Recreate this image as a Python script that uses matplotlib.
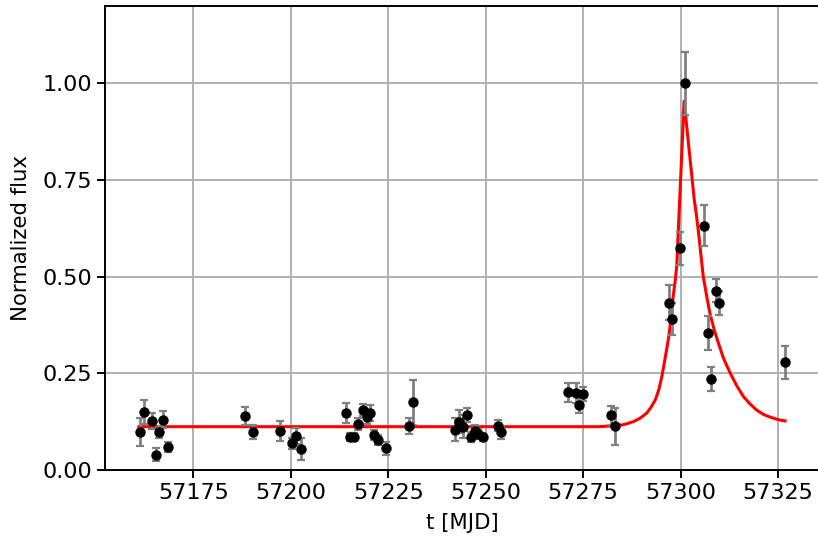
import matplotlib.pyplot as plt
import numpy as np

# Observations: time [MJD], normalized flux and its error
t_obs = [57161.3, 57162.4, 57164.3, 57165.4, 57166.3, 57167.3, 57168.5,
         57188.3, 57190.3, 57197.2, 57200.4, 57201.3, 57202.6,
         57214.2, 57215.2, 57216.2, 57217.3, 57218.4, 57219.5, 57220.3,
         57221.4, 57222.3, 57224.4, 57230.3, 57231.4,
         57242.1, 57243.2, 57244.2, 57245.1, 57246.2, 57247.2, 57248.1,
         57249.2, 57253.1, 57253.9,
         57271.2, 57273.2, 57275.0, 57274.0, 57282.1, 57283.2,
         57297.0, 57297.9, 57299.9, 57301.1, 57306.0, 57307.0, 57307.9,
         57309.0, 57309.9, 57326.8]
flux = [0.098, 0.151, 0.127, 0.040, 0.099, 0.130, 0.060,
        0.140, 0.098, 0.101, 0.069, 0.088, 0.054,
        0.147, 0.086, 0.086, 0.119, 0.155, 0.138, 0.147,
        0.091, 0.078, 0.056, 0.114, 0.175,
        0.104, 0.125, 0.112, 0.142, 0.086, 0.102, 0.093,
        0.086, 0.115, 0.098,
        0.201, 0.199, 0.197, 0.168, 0.141, 0.113,
        0.433, 0.390, 0.573, 1.000, 0.632, 0.354, 0.235,
        0.464, 0.431, 0.278]
flux_err = [0.036, 0.031, 0.021, 0.018, 0.015, 0.022, 0.013,
            0.024, 0.018, 0.027, 0.015, 0.020, 0.029,
            0.026, 0.010, 0.010, 0.015, 0.015, 0.020, 0.020,
            0.013, 0.013, 0.017, 0.020, 0.058,
            0.030, 0.030, 0.030, 0.018, 0.013, 0.015, 0.013,
            0.010, 0.015, 0.017,
            0.025, 0.025, 0.018, 0.020, 0.025, 0.048,
            0.046, 0.041, 0.043, 0.082, 0.052, 0.043, 0.031,
            0.029, 0.031, 0.042]

# Fitted light-curve model
t_model = [57161.0, 57279.3, 57283.2, 57285.3, 57287.9, 57289.6, 57291.3,
           57292.4, 57293.5, 57294.4, 57295.2, 57295.8, 57296.4, 57296.9,
           57297.3, 57297.7, 57298.1, 57298.6, 57299.0, 57300.9,
           57303.5, 57304.1, 57304.6, 57305.2, 57305.8, 57306.7, 57307.5,
           57308.6, 57309.7, 57311.0, 57312.7, 57314.4, 57316.1, 57317.8,
           57319.5, 57321.2, 57322.9, 57325.1, 57326.8]
f_model = [0.112, 0.112, 0.115, 0.117, 0.125, 0.134, 0.147,
           0.162, 0.181, 0.207, 0.242, 0.276, 0.311, 0.341,
           0.371, 0.410, 0.449, 0.488, 0.527, 0.954,
           0.699, 0.656, 0.613, 0.557, 0.501, 0.449, 0.406,
           0.363, 0.328, 0.289, 0.251, 0.218, 0.190, 0.171,
           0.155, 0.144, 0.137, 0.130, 0.127]

plt.rcParams['font.size'] = 16

fig = plt.figure(figsize=(8.18, 5.39), dpi=100)
ax = fig.add_axes([0.1287, 0.128, 0.8725, 0.861])

ax.plot(t_model, f_model, color='red', lw=2.2, zorder=3)
ax.errorbar(t_obs, flux, yerr=flux_err, fmt='o', color='black', ms=6.5,
            ecolor='gray', elinewidth=2, capsize=3, capthick=1.6, zorder=4)

ax.set_xlim(57152.4, 57335.5)
ax.set_ylim(0, 1.2)
ax.set_xticks([57175, 57200, 57225, 57250, 57275, 57300, 57325])
ax.set_yticks([0.0, 0.25, 0.5, 0.75, 1.0])
ax.set_yticklabels(['0.00', '0.25', '0.50', '0.75', '1.00'])
ax.set_xlabel('t [MJD]', labelpad=7, fontsize=15.3)
ax.set_ylabel('Normalized flux', labelpad=8, fontsize=15.3)
ax.grid(True, color='#b0b0b0', lw=1.4)
ax.set_axisbelow(True)
ax.tick_params(length=6, width=1.4)
for s in ax.spines.values():
    s.set_linewidth(1.4)

fig.savefig('out.png', dpi=100)
